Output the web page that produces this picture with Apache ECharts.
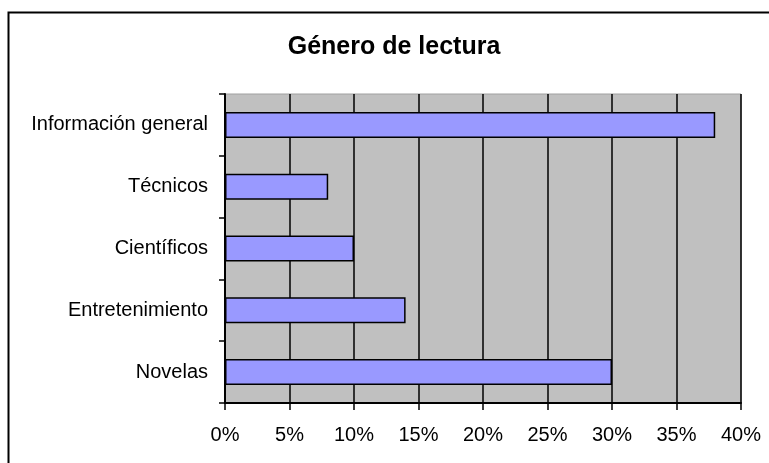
<!DOCTYPE html>
<html>
<head>
<meta charset="utf-8">
<script src="https://cdn.jsdelivr.net/npm/echarts@6/dist/echarts.min.js"></script>
<style>
  html, body { margin: 0; padding: 0; background: #fff; }
  #chart { width: 769px; height: 463px; }
</style>
</head>
<body>
<div id="chart"></div>
<script>
// categorias de abajo hacia arriba (eje y de echarts empieza abajo)
var categories = ['Novelas', 'Entretenimiento', 'Científicos', 'Técnicos', 'Información general'];
var values = [30, 14, 10, 8, 38];
var xTicks = [0, 5, 10, 15, 20, 25, 30, 35, 40];

var chart = echarts.init(document.getElementById('chart'));

chart.setOption({
    animation: false,
    title: {
        text: 'Género de lectura',
        left: 389,
        textAlign: 'center',
        top: 30,
        textStyle: { fontFamily: 'Liberation Sans', fontSize: 25, fontWeight: 'bold', color: '#000' }
    },
    graphic: [{
        type: 'rect',
        shape: { x: 8.5, y: 12.5, width: 800, height: 500 },
        style: { fill: 'none', stroke: '#000', lineWidth: 2 },
        z: -1
    }],
    grid: {
        left: 225,
        right: 28,
        top: 94,
        bottom: 60,
        show: true,
        backgroundColor: '#C0C0C0',
        borderColor: '#a0a0a0',
        borderWidth: 1
    },
    xAxis: {
        type: 'value',
        min: xTicks[0],
        max: xTicks[xTicks.length - 1],
        interval: 5,
        axisLine: { show: true, lineStyle: { color: '#000', width: 2 } },
        axisTick: { show: true, length: 7, lineStyle: { color: '#000', width: 1.5 } },
        splitLine: { show: true, lineStyle: { color: '#000', width: 1.5 } },
        axisLabel: {
            margin: 22,
            fontFamily: 'Liberation Sans', fontSize: 20, color: '#000',
            formatter: function (v) { return v + '%'; }
        }
    },
    yAxis: {
        type: 'category',
        data: categories,
        axisLine: { show: true, lineStyle: { color: '#000', width: 2 } },
        axisTick: { show: true, length: 6, lineStyle: { color: '#000', width: 1.5 } },
        axisLabel: { margin: 17, fontFamily: 'Liberation Sans', fontSize: 20, color: '#000' }
    },
    series: [{
        type: 'bar',
        data: values,
        barWidth: '42%',
        itemStyle: { color: '#9999FF', borderColor: '#000', borderWidth: 1.5 }
    }]
});
</script>
</body>
</html>
